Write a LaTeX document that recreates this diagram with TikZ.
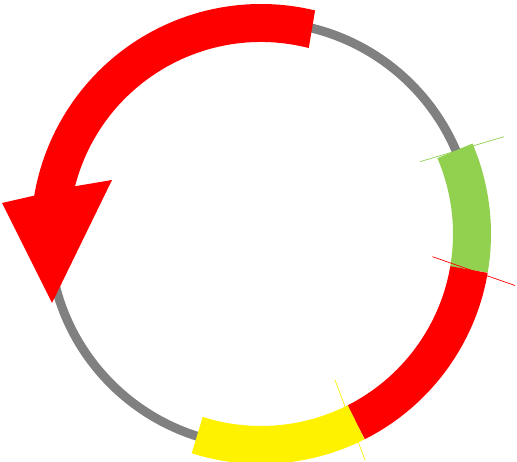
\documentclass[tikz,border=0pt]{standalone}
\usepackage{tikz}
\usetikzlibrary{calc}
\definecolor{ringgray}{RGB}{128,128,128}
\definecolor{leafgreen}{RGB}{146,208,80}
\tikzstyle{band} = [line width=38pt]
\tikzstyle{sliver} = [line width=0.7pt]

\begin{document}
\begin{tikzpicture}[x=1pt, y=1pt]
\useasboundingbox (0,0) rectangle (517,462);
\coordinate (c) at (261,228);

% backbone
\draw[ringgray, line width=9pt] (c) circle (212);

% arrow
\fill[red] ($(c)+(76.4:230)$) arc[start angle=76.4, end angle=170.4, radius=230]
  -- (2,259) -- (52,159) -- (112,282)
  -- ($(c)+(165.6:192)$) arc[start angle=165.6, end angle=75.6, radius=192] -- cycle;

% features
\draw[band, leafgreen] ($(c)+(23.2:211)$) arc[start angle=23.2, end angle=-9.7, radius=211];
\draw[band, red] ($(c)+(-9.7:211)$) arc[start angle=-9.7, end angle=-63.2, radius=211];
\draw[band, yellow] ($(c)+(-63.2:211)$) arc[start angle=-63.2, end angle=-107.6, radius=211];

% edges
\draw[sliver, leafgreen] (420,300.3) -- (504,325.3);
\draw[sliver, red] (432.5,205.3) -- (515,176.5);
\draw[sliver, yellow] (335,82) -- (365,2);
\end{tikzpicture}
\end{document}
